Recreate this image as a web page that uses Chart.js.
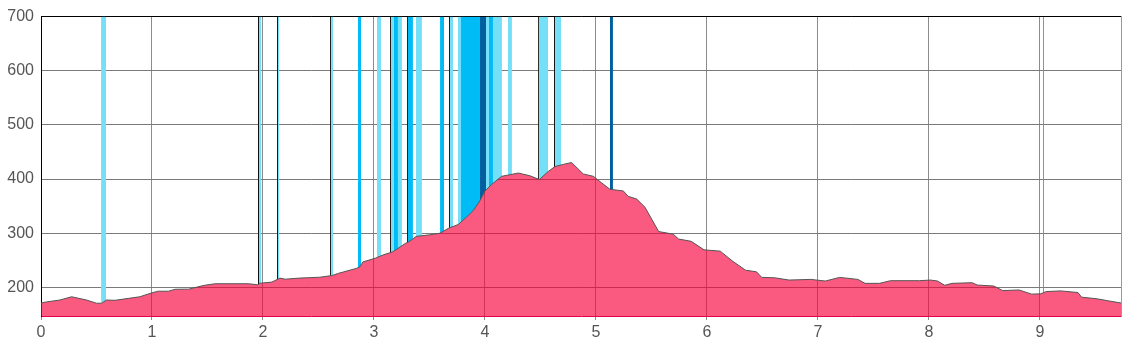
<!DOCTYPE html>
<html>
<head>
<meta charset="utf-8">
<script src="https://cdn.jsdelivr.net/npm/chart.js@4"></script>
<style>
    html, body { margin: 0; padding: 0; background: #fff; overflow: hidden; }
    #wrap { width: 1128px; height: 351px; }
</style>
</head>
<body>
<div id="wrap"><canvas id="profileChart"></canvas></div>
<script>
// Perfil: distancia (km) y altitud (m)
const distKm = [0.00, 0.05, 0.17, 0.276, 0.41, 0.50, 0.546, 0.59, 0.667, 0.79, 0.89, 0.997, 1.057, 1.148, 1.21, 1.33,
    1.47, 1.57, 1.73, 1.87, 1.955, 1.97, 2.08, 2.153, 2.20, 2.33, 2.51, 2.62, 2.68, 2.84, 2.874, 2.90, 3.01, 3.08,
    3.17, 3.28, 3.32, 3.38, 3.50, 3.595, 3.67, 3.76, 3.835, 3.895, 3.955, 4.00, 4.06, 4.15, 4.225, 4.30, 4.405,
    4.49, 4.57, 4.63, 4.705, 4.78, 4.885, 4.976, 5.05, 5.126, 5.246, 5.29, 5.367, 5.441, 5.565, 5.695, 5.744,
    5.858, 5.973, 6.119, 6.233, 6.348, 6.446, 6.494, 6.609, 6.74, 6.935, 7.066, 7.196, 7.36, 7.424, 7.555, 7.653,
    7.914, 8.012, 8.077, 8.142, 8.207, 8.387, 8.436, 8.583, 8.664, 8.811, 8.925, 9.007, 9.056, 9.186, 9.342,
    9.375, 9.512, 9.61, 9.73];
const elevation = [171, 173, 176.5, 182.5, 176.5, 170.6, 170.6, 176.5, 176, 179.6, 182.5, 189.7, 192.8, 192.8, 196.4, 196.6,
    203.6, 206.6, 206.6, 206.6, 204.5, 207.5, 209.6, 217, 215, 217, 218.6, 221.6, 225.8, 234.8, 237.9, 246.9, 253.6, 259.6,
    265.6, 280.7, 284.8, 293.9, 296.9, 299.9, 308.9, 316.1, 329.9, 342, 360, 378, 390, 405, 408, 411, 406,
    399, 414, 423, 427, 430.5, 409.4, 405, 393, 381, 378, 368, 363, 348, 303, 298.2, 289.2,
    284.9, 269.2, 266.8, 247.9, 231.6, 228.6, 218.3, 217.6, 213.4, 214.6, 211.6, 218.3, 214.6, 207.3, 207.3, 212.2,
    212.2, 213.4, 211.6, 203.7, 207.3, 208.5, 204.2, 202.4, 193.9, 195.1, 187.4, 188, 192.1, 193.4, 190.3,
    181.8, 178.8, 175.2, 171];

// Tramos coloreados (inicio, fin, tipo)
const bandFrom = [0.541, 1.955, 1.964, 2.126, 2.135, 2.604, 2.613, 2.856, 3.027, 3.144, 3.153, 3.180, 3.216, 3.297, 3.306,
    3.378, 3.595, 3.676, 3.685, 3.757, 3.784, 3.955, 4.009, 4.036, 4.072, 4.207, 4.477, 4.486, 4.622, 4.631, 5.126, 9.027];
const bandTo = [0.586, 1.964, 1.982, 2.135, 2.147, 2.613, 2.631, 2.883, 3.063, 3.153, 3.180, 3.216, 3.252, 3.306, 3.351,
    3.432, 3.631, 3.685, 3.712, 3.784, 3.955, 4.009, 4.036, 4.072, 4.153, 4.243, 4.486, 4.568, 4.631, 4.685, 5.153, 9.036];
const bandKind = ['light', 'black', 'light', 'black', 'light', 'black', 'light', 'deep', 'light', 'black', 'light', 'deep',
    'light', 'black', 'deep', 'light', 'deep', 'black', 'light', 'light', 'deep', 'dark', 'light', 'deep', 'light', 'light',
    'black', 'light', 'black', 'light', 'dark', 'deep'];

const xTicks = [0, 1, 2, 3, 4, 5, 6, 7, 8, 9];
const yTicks = [200, 300, 400, 500, 600, 700];

const kindColor = { light: '#75dff8', deep: '#00bcf6', dark: '#00609f', black: '#111111' };

// altitud interpolada en una distancia dada
function elevAt(x) {
    for (let i = 1; i < distKm.length; i++) {
        if (x <= distKm[i]) {
            const t = (x - distKm[i - 1]) / (distKm[i] - distKm[i - 1]);
            return elevation[i - 1] + t * (elevation[i] - elevation[i - 1]);
        }
    }
    return elevation[elevation.length - 1];
}

const profilePoints = distKm.map((d, i) => ({ x: d, y: elevation[i] }));

const bandSets = bandFrom.map((from, i) => {
    const to = bandTo[i];
    const pts = [{ x: from, y: elevAt(from) }];
    distKm.forEach((d, j) => { if (d > from && d < to) pts.push({ x: d, y: elevation[j] }); });
    pts.push({ x: to, y: elevAt(to) });
    return {
        data: pts,
        backgroundColor: kindColor[bandKind[i]],
        borderWidth: 0,
        pointRadius: 0,
        fill: 'end',
        tension: 0
    };
});

const tickFont = { family: 'Liberation Sans, Arial, sans-serif', size: 16 };

new Chart(document.getElementById('profileChart'), {
    type: 'line',
    data: {
        datasets: [{
            data: profilePoints,
            borderColor: '#555555',
            borderWidth: 1,
            backgroundColor: 'rgba(247, 0, 60, 0.65)',
            pointRadius: 0,
            fill: 'start',
            tension: 0
        }, ...bandSets]
    },
    options: {
        responsive: true,
        maintainAspectRatio: false,
        animation: false,
        layout: { padding: { top: 10, right: 7, left: 0, bottom: 0 } },
        plugins: { legend: { display: false }, tooltip: { enabled: false } },
        scales: {
            x: {
                type: 'linear',
                min: 0,
                max: 9.73,
                afterBuildTicks: (s) => { s.ticks = xTicks.map(v => ({ value: v })); },
                afterFit: (s) => { s.height = 35; },
                ticks: { color: '#555', font: tickFont, padding: 3, maxRotation: 0 },
                grid: { color: '#8c8c8c', tickColor: '#8c8c8c', tickLength: 4 },
                border: { color: '#e5004c', width: 1 }
            },
            xTop: {
                type: 'linear',
                position: 'top',
                min: 0,
                max: 9.73,
                z: 1,
                afterFit: (s) => { s.height = 0; },
                ticks: { display: false },
                grid: { display: false, drawTicks: false },
                border: { color: '#000', width: 1 }
            },
            y: {
                min: 147,
                max: 700,
                afterBuildTicks: (s) => { s.ticks = yTicks.map(v => ({ value: v })); },
                afterFit: (s) => { s.width = 41; },
                ticks: { color: '#555', font: tickFont, padding: 7 },
                grid: { color: '#7a7a7a', drawTicks: false },
                border: { color: '#000', width: 1 }
            },
            yRight: {
                position: 'right',
                min: 147,
                max: 700,
                afterFit: (s) => { s.width = 0; },
                ticks: { display: false },
                grid: { display: false, drawTicks: false },
                border: { color: '#9a9a9a', width: 1 }
            }
        }
    }
});
</script>
</body>
</html>
